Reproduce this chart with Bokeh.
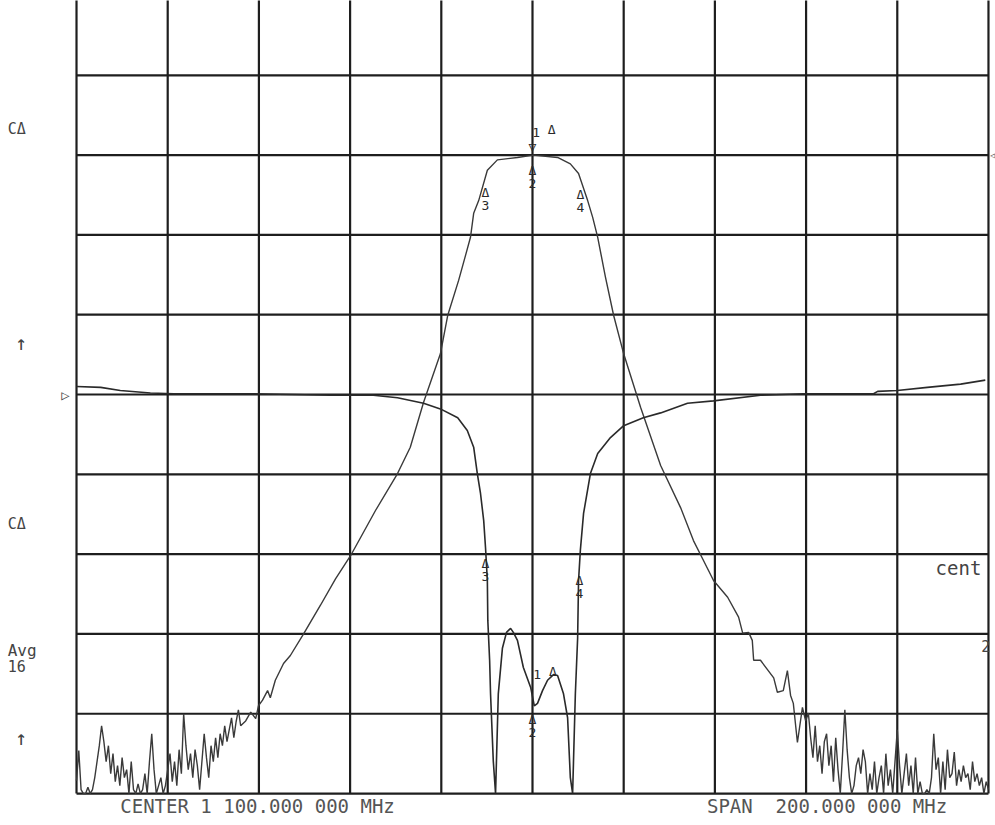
from bokeh.plotting import figure
from bokeh.models import Range1d
from bokeh.core.properties import value
from bokeh.embed import file_html
from bokeh.resources import INLINE

# Sweep: CENTER 1 100.000 000 MHz, SPAN 200.000 000 MHz, 10 dB/div
center_mhz = 1100.0
span_mhz = 200.0
sweep_step = 0.5
x_divisions = [1000, 1020, 1040, 1060, 1080, 1100, 1120, 1140, 1160, 1180, 1200]
y_divisions = [-80, -70, -60, -50, -40, -30, -20, -10, 0, 10, 20]

# S21 (transmission) - left noise floor, 1000 .. 1036 MHz
noise_left_start = 1000.0
noise_left_db = [
    -78.4, -74.6, -79.5, -80.0, -80.0, -79.2, -80.0, -79.5, -78.0, -76.0,
    -74.0, -71.5, -73.5, -76.0, -74.0, -77.5, -75.0, -78.5, -76.5, -79.0,
    -75.5, -78.0, -77.0, -80.0, -76.0, -79.5, -80.0, -78.8, -80.0, -79.5,
    -77.5, -80.0, -76.0, -72.5, -77.0, -80.0, -79.0, -78.0, -80.0, -79.0,
    -77.0, -75.0, -78.5, -76.0, -79.0, -74.5, -77.5, -70.0, -74.0, -77.0,
    -75.0, -78.0, -74.5, -76.5, -79.5, -76.0, -72.5, -75.5, -78.0, -74.0,
    -76.0, -73.0, -75.5, -72.5, -74.0, -71.5, -73.5, -72.0, -70.5, -73.0,
    -71.0, -69.5, -71.5,
]

# S21 skirts and passband
s21_f = [1037.1, 1038.2, 1039.3, 1039.9, 1040.8, 1041.9, 1042.5, 1043.6, 1045.4, 1046.9,
         1049.8, 1053.5, 1056.8, 1060.1, 1065.6, 1070.4, 1073.2, 1076.1, 1079.8, 1081.4,
         1083.8, 1085.3, 1086.4, 1087.1, 1088.2, 1090.1, 1092.3, 1096.7, 1100.2, 1105.5,
         1108.3, 1110.1, 1112.1, 1113.2, 1114.3, 1116.0, 1117.8, 1120.0, 1123.7, 1128.1,
         1132.5, 1135.3, 1137.5, 1139.7, 1142.8, 1145.2, 1146.1, 1147.4, 1148.2, 1148.5,
         1150.0, 1152.9, 1153.7, 1155.0, 1155.9, 1156.6, 1157.2, 1158.1, 1159.2, 1159.9,
         1160.5]
s21_db = [-70.9, -69.8, -70.6, -69.0, -68.3, -67.1, -68.0, -65.8, -63.7, -62.7,
          -60.0, -56.4, -53.1, -50.2, -44.5, -39.9, -36.6, -31.0, -24.9, -20.1,
          -15.7, -12.6, -10.3, -7.3, -5.7, -1.9, -0.6, -0.3, 0.0, -0.3,
          -1.1, -2.3, -5.7, -7.8, -10.3, -15.3, -20.1, -24.9, -31.6, -38.9,
          -44.2, -48.3, -50.8, -53.3, -55.4, -57.9, -59.9, -59.8, -60.8, -63.3,
          -63.3, -65.5, -67.3, -67.1, -64.6, -67.7, -68.7, -73.6, -69.2, -70.9,
          -69.9]

# S21 - right noise floor, 1161 .. 1200 MHz
noise_right_start = 1161.0
noise_right_db = [
    -73.0, -75.5, -71.5, -76.0, -74.0, -77.5, -73.5, -72.5, -76.5, -74.0,
    -78.5, -73.0, -77.0, -80.0, -75.0, -69.5, -74.5, -78.0, -80.0, -79.0,
    -76.5, -75.5, -77.5, -74.5, -76.0, -80.0, -77.5, -79.5, -76.0, -80.0,
    -78.0, -76.5, -80.0, -75.0, -79.0, -77.0, -80.0, -76.0, -72.0, -76.5,
    -80.0, -77.5, -75.0, -79.0, -76.5, -80.0, -75.5, -80.0, -78.5, -80.0,
    -80.0, -79.5, -80.0, -78.0, -72.5, -77.0, -75.5, -80.0, -76.0, -79.5,
    -74.5, -78.0, -77.5, -74.8, -79.0, -77.0, -78.5, -76.5, -78.0, -77.5,
    -79.5, -76.0, -78.5, -77.5, -79.0, -78.0, -80.0, -78.5, -79.5,
]

# S11 (reflection), reference line at -30 on the display grid
s11_f = [1000.0, 1005.3, 1009.6, 1016.2, 1021.3, 1038.2, 1055.7, 1065.1, 1070.4, 1076.1,
         1079.8, 1083.6, 1085.7, 1087.1, 1087.9, 1088.6, 1089.3, 1089.7, 1090.1, 1090.2,
         1090.6, 1090.8, 1091.4, 1091.9, 1092.5, 1093.4, 1094.3, 1095.2, 1095.8, 1096.7,
         1098.0, 1099.6, 1100.4, 1101.1, 1102.2, 1103.3, 1104.6, 1105.5, 1106.8, 1107.7,
         1108.3, 1108.8, 1109.4, 1109.9, 1110.1, 1110.5, 1111.2, 1112.7, 1114.3, 1117.1,
         1120.0, 1124.3, 1128.1, 1134.0, 1139.7, 1150.0, 1159.4, 1174.8, 1175.7, 1180.0,
         1186.6, 1193.9, 1199.3]
s11_db = [-29.0, -29.1, -29.5, -29.8, -29.9, -29.9, -30.1, -30.1, -30.4, -31.1,
          -31.8, -32.9, -34.5, -36.6, -39.9, -42.4, -45.8, -49.2, -53.3, -58.3,
          -63.3, -67.5, -75.9, -80.0, -67.5, -61.8, -59.8, -59.3, -59.8, -60.8,
          -64.2, -66.7, -69.0, -68.7, -67.1, -65.8, -65.1, -65.2, -67.5, -70.5,
          -78.0, -80.0, -67.5, -60.5, -53.3, -49.5, -44.9, -39.9, -37.4, -35.4,
          -33.9, -32.9, -32.3, -31.1, -30.8, -30.1, -29.9, -29.9, -29.6, -29.5,
          -29.1, -28.7, -28.2]

# markers (frequency, level on the trace, label)
s21_marker_f = [1100.0, 1089.7, 1110.5]
s21_marker_db = [0.0, -2.7, -3.0]
s21_marker_lbl = ["2", "3", "4"]
s11_marker_f = [1089.7, 1110.3, 1100.0]
s11_marker_db = [-49.2, -51.4, -68.8]
s11_marker_lbl = ["3", "4", "2"]

# screen texts
center_text = "CENTER 1 100.000 000 MHz"
span_text = "SPAN\u00a0 200.000 000 MHz"

# ---------------- figure ----------------
noise_left_f = [noise_left_start + sweep_step * i for i in range(len(noise_left_db))]
noise_right_f = [noise_right_start + sweep_step * i for i in range(len(noise_right_db))]
trace1_f = noise_left_f + s21_f + noise_right_f
trace1_db = noise_left_db + s21_db + noise_right_db

f_lo = center_mhz - span_mhz / 2
f_hi = center_mhz + span_mhz / 2

p = figure(width=995, height=825, output_backend="svg", toolbar_location=None,
           x_range=Range1d(983.33, 1201.54), y_range=Range1d(-84.0, 19.37),
           x_axis_location=None, y_axis_location=None, min_border=0)
p.background_fill_color = "white"
p.border_fill_color = "white"
p.outline_line_color = None
p.grid.visible = False

grid_col = "#1e1e1e"
nx, ny = len(x_divisions), len(y_divisions)
p.segment(x0=x_divisions, y0=[y_divisions[0]] * nx, x1=x_divisions, y1=[y_divisions[-1]] * nx,
          line_color=grid_col, line_width=2.2)
p.segment(x0=[f_lo] * ny, y0=y_divisions, x1=[f_hi] * ny, y1=y_divisions,
          line_color=grid_col, line_width=2.2)

p.line(trace1_f, trace1_db, line_color="#3a3a3a", line_width=1.4)
p.line(s11_f, s11_db, line_color="#2a2a2a", line_width=1.6)

mono = value("DejaVu Sans Mono")
ink = "#2a2a2a"
mk = dict(text_font=mono, text_font_size="13px", text_color=ink, text_align="center")

# S21 marker 1 (active) above the peak
p.text([center_mhz], [0.0], text=["\u25bd"], text_baseline="bottom", y_offset=-1, **mk)
p.text([center_mhz + 0.8, center_mhz + 4.2], [0.0, 0.0], text=["1", "\u0394"],
       text_baseline="bottom", y_offset=-18, **mk)
# S21 markers below the trace
p.text(s21_marker_f, s21_marker_db, text=["\u0394"] * 3, text_baseline="top", y_offset=8, **mk)
p.text(s21_marker_f, s21_marker_db, text=s21_marker_lbl, text_baseline="top", y_offset=24, **mk)
# S11 markers
p.text(s11_marker_f, s11_marker_db, text=["\u0394"] * 3, text_baseline="top", y_offset=8, **mk)
p.text(s11_marker_f, s11_marker_db, text=s11_marker_lbl, text_baseline="top", y_offset=24, **mk)
p.text([center_mhz + 1.0, center_mhz + 4.5], [-68.8, -68.8], text=["1", "\u0394"],
       text_baseline="bottom", y_offset=-25, **mk)

# bottom status line
p.text([1039.7, 1164.6], [-81.5, -81.5], text=[center_text, span_text], text_font=mono,
       text_font_size="19px", text_color="#555555", text_align="center", text_baseline="middle")

# left side annotations
side = dict(text_font=mono, text_color="#444444", text_align="left", text_baseline="middle")
p.text([984.9, 984.9], [3.3, -46.2], text=["C\u0394", "C\u0394"], text_font_size="15px", **side)
p.text([986.5, 986.5], [-23.5, -73.0], text=["\u2191", "\u2191"], text_font_size="20px", **side)
p.text([984.9], [-62.1], text=["Avg"], text_font_size="16px", **side)
p.text([984.9], [-64.0], text=["16"], text_font_size="15px", **side)
# reference position arrows
p.text([997.6], [-30.0], text=["\u25b7"], text_font=mono, text_font_size="14px",
       text_color="#444444", text_align="center", text_baseline="middle")
p.text([1200.9], [0.0], text=["\u25c1"], text_font=mono, text_font_size="8px",
       text_color="#444444", text_align="center", text_baseline="middle")
# right side texts
p.text([1188.4], [-51.7], text=["cent"], text_font=mono, text_font_size="19px",
       text_color="#444444", text_align="left", text_baseline="middle")
p.text([1200.4], [-61.5], text=["2"], text_font=mono, text_font_size="15px",
       text_color="#444444", text_align="right", text_baseline="middle")

open("out.html", "w").write(file_html(p, INLINE))
